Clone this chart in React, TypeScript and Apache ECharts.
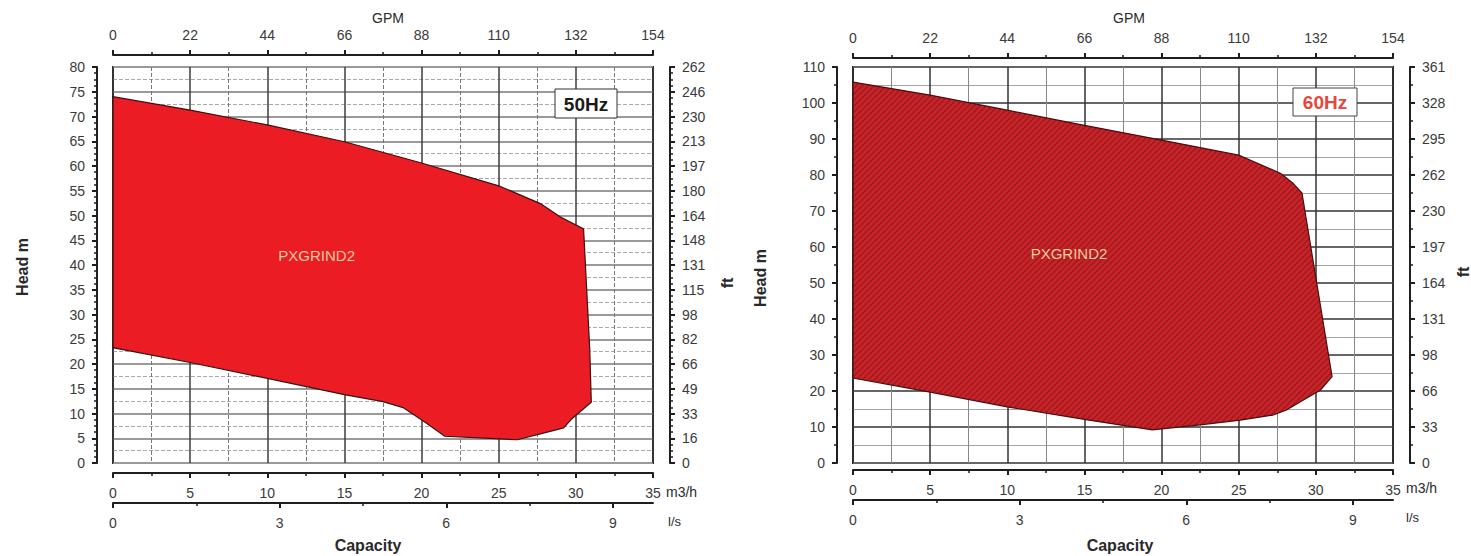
import { useEffect, useRef } from 'react';
import * as echarts from 'echarts';

// ---------- data ----------
const m3hRange = [0, 35];
const gpmRange = [0, 154];
const lsMajorTicks = [0, 3, 6, 9];
const lsMinorTicks = [1.5, 4.5, 7.5];

// 50 Hz operating envelope (capacity m3/h, head m) – clockwise polygon
const hz50Q = [0, 5, 10, 15, 20, 25, 27.7, 29, 30.5, 30.9, 31.0, 29.8, 29.2, 27.7, 26.2, 21.5, 20.3, 18.8, 17.5, 15, 10, 5, 0];
const hz50H = [74, 71.3, 68.3, 64.9, 60.6, 56, 52.4, 49.7, 47.3, 23, 12.3, 9.1, 7.1, 5.9, 4.7, 5.4, 8.1, 11.2, 12.4, 13.8, 17.1, 20.3, 23.3];
const hz50FtLabels = ['0', '16', '33', '49', '66', '82', '98', '115', '131', '148', '164', '180', '197', '213', '230', '246', '262'];

// 60 Hz operating envelope
const hz60Q = [0, 5, 10, 15, 20, 25, 27.7, 28.5, 29.1, 31.05, 30.3, 29, 28.1, 27.2, 25.1, 22.5, 19.4, 15, 10, 5, 0];
const hz60H = [105.8, 102.2, 98, 93.8, 89.7, 85.5, 80.5, 77.8, 75, 24, 20.3, 17, 14.7, 13.3, 11.9, 10.6, 9.2, 12.1, 15.6, 19.7, 23.6];
const hz60FtLabels = ['0', '33', '66', '98', '131', '164', '197', '230', '262', '295', '328', '361'];

const pumpName = 'PXGRIND2';

const FONT = "'Liberation Sans', Arial, sans-serif";
const INK = '#1e1e1e';
const LABEL = '#3a3a3a';

function makeHatch() {
  const cv = document.createElement('canvas');
  cv.width = 6;
  cv.height = 6;
  const ctx = cv.getContext('2d');
  if (ctx) {
    ctx.fillStyle = '#c9232a';
    ctx.fillRect(0, 0, 6, 6);
    ctx.strokeStyle = '#9c1a1d';
    ctx.lineWidth = 1.4;
    ctx.beginPath();
    ctx.moveTo(0, 6); ctx.lineTo(6, 0);
    ctx.moveTo(-1, 1); ctx.lineTo(1, -1);
    ctx.moveTo(5, 7); ctx.lineTo(7, 5);
    ctx.stroke();
  }
  return { image: cv, repeat: 'repeat', imageWidth: 6, imageHeight: 6 };
}

interface Panel {
  left: number; top: number; width: number; height: number;
  yMax: number; yInterval: number; yMinorTicks: number; ftMinorTicks: number;
  ftLabels: string[];
  q: number[]; h: number[];
  fill: any; stroke: string;
  labelQ: number; labelH: number;
  gpmOffset: number; m3hOffset: number; lsOffset: number; yOffset: number; ftOffset: number;
  vMajor: any; vMinor: any; hMajor: any; hMinor: any;
}

function buildPanel(p: Panel, gi: number) {
  const xb = gi * 4;
  const yb = gi * 3;
  const axisLine = { show: true, onZero: false, lineStyle: { color: INK, width: 2 } };
  const tick = { show: true, length: 5, lineStyle: { color: INK, width: 2 } };
  const minor = (n: number) => ({ show: true, splitNumber: n, length: 3, lineStyle: { color: INK, width: 1.5 } });
  const lab = (margin: number) => ({ color: LABEL, fontSize: 14, fontFamily: FONT, margin });
  const lsMax = m3hRange[1] / 3.6;

  const grid = {
    left: p.left, top: p.top, width: p.width, height: p.height,
    show: true, borderColor: INK, borderWidth: 2, backgroundColor: '#fff',
  };
  const xAxes: any[] = [
    {
      type: 'value', gridIndex: gi, position: 'bottom', offset: p.m3hOffset,
      min: m3hRange[0], max: m3hRange[1], interval: 5,
      axisLine, axisTick: tick, minorTick: minor(2), axisLabel: lab(13),
      splitLine: { show: true, lineStyle: p.vMajor },
      minorSplitLine: { show: true, lineStyle: p.vMinor },
    },
    {
      type: 'value', gridIndex: gi, position: 'top', offset: p.gpmOffset,
      min: gpmRange[0], max: gpmRange[1], interval: 22,
      axisLine, axisTick: tick, minorTick: minor(2), axisLabel: lab(13),
      splitLine: { show: false },
    },
    {
      type: 'value', gridIndex: gi, position: 'bottom', offset: p.lsOffset,
      min: 0, max: lsMax,
      axisLine,
      axisTick: { ...tick, customValues: lsMajorTicks },
      axisLabel: { ...lab(13), customValues: lsMajorTicks },
      splitLine: { show: false },
    },
    {
      type: 'value', gridIndex: gi, position: 'bottom', offset: p.lsOffset,
      min: 0, max: lsMax,
      axisLine: { show: false, onZero: false },
      axisTick: { show: true, length: 3, lineStyle: { color: INK, width: 1.5 }, customValues: lsMinorTicks },
      axisLabel: { show: false },
      splitLine: { show: false },
    },
  ];
  const yAxes: any[] = [
    {
      type: 'value', gridIndex: gi, position: 'left', offset: p.yOffset,
      min: 0, max: p.yMax, interval: p.yInterval,
      axisLine, axisTick: tick, minorTick: minor(p.yMinorTicks), axisLabel: lab(12),
      splitLine: { show: false },
    },
    {
      type: 'value', gridIndex: gi, position: 'right', offset: p.ftOffset,
      min: 0, max: p.yMax, interval: p.yInterval,
      axisLine, axisTick: tick, minorTick: minor(p.ftMinorTicks),
      axisLabel: { ...lab(12), formatter: (v: number) => p.ftLabels[Math.round(v / p.yInterval)] ?? '' },
      splitLine: { show: false },
    },
    {
      type: 'value', gridIndex: gi, position: 'left',
      min: 0, max: p.yMax, interval: p.yInterval,
      axisLine: { show: false, onZero: false }, axisTick: { show: false }, axisLabel: { show: false },
      minorTick: { show: false, splitNumber: 2 },
      splitLine: { show: true, lineStyle: p.hMajor },
      minorSplitLine: { show: true, lineStyle: p.hMinor },
    },
  ];
  const series = {
    type: 'custom',
    xAxisIndex: xb,
    yAxisIndex: yb,
    silent: true,
    z: 5,
    data: [[0, 0]],
    renderItem: (_params: any, api: any) => {
      const pts = p.q.map((q, i) => api.coord([q, p.h[i]]));
      const c = api.coord([p.labelQ, p.labelH]);
      return {
        type: 'group',
        children: [
          { type: 'polygon', shape: { points: pts }, style: { fill: p.fill, stroke: p.stroke, lineWidth: 1.2 } },
          {
            type: 'text', x: c[0], y: c[1],
            style: { text: pumpName, fill: '#f7c99c', font: `15px ${FONT}`, align: 'center', verticalAlign: 'middle' },
          },
        ],
      };
    },
  };
  return { grid, xAxes, yAxes, series };
}

function txt(text: string, x: number, y: number, size: number, opts: any = {}) {
  return {
    type: 'text', x, y, rotation: opts.rotation ?? 0, z: 20,
    style: {
      text, fill: opts.color ?? '#2a2a2a', font: `${opts.bold ? 'bold ' : ''}${size}px ${FONT}`,
      align: opts.align ?? 'center', verticalAlign: 'middle',
    },
  };
}

export default function App() {
  const ref = useRef<HTMLDivElement>(null);
  useEffect(() => {
    if (!ref.current) return;
    const chart = echarts.init(ref.current, undefined, { renderer: 'svg' });
    const hatch = makeHatch();

    const p50: Panel = {
      left: 113, top: 67, width: 540, height: 396,
      yMax: 80, yInterval: 5, yMinorTicks: 4, ftMinorTicks: 4, ftLabels: hz50FtLabels,
      q: hz50Q, h: hz50H, fill: '#ec1c24', stroke: '#3a1212',
      labelQ: 13.2, labelH: 42,
      gpmOffset: 12, m3hOffset: 10, lsOffset: 40, yOffset: 16, ftOffset: 17,
      vMajor: { color: '#3c3c3c', width: 1.5 },
      vMinor: { color: '#777', width: 1, type: 'dashed' },
      hMajor: { color: '#9a9a9a', width: 2 },
      hMinor: { color: '#aaa', width: 1, type: 'dashed' },
    };
    const p60: Panel = {
      left: 853, top: 67, width: 540, height: 396,
      yMax: 110, yInterval: 10, yMinorTicks: 2, ftMinorTicks: 2, ftLabels: hz60FtLabels,
      q: hz60Q, h: hz60H, fill: hatch, stroke: '#4a0e0e',
      labelQ: 14, labelH: 58.3,
      gpmOffset: 9, m3hOffset: 7, lsOffset: 37, yOffset: 16, ftOffset: 17,
      vMajor: { color: '#333', width: 1.5 },
      vMinor: { color: '#888', width: 1 },
      hMajor: { color: '#666', width: 2 },
      hMinor: { color: '#a5a5a5', width: 1 },
    };
    const a = buildPanel(p50, 0);
    const b = buildPanel(p60, 1);

    const graphic: any[] = [
      txt('GPM', 388, 18, 14),
      txt('GPM', 1129, 18, 14),
      txt('Head m', 22, 267, 16, { bold: true, rotation: Math.PI / 2 }),
      txt('Head m', 760, 278, 16, { bold: true, rotation: Math.PI / 2 }),
      txt('ft', 727, 283, 16, { bold: true, rotation: Math.PI / 2 }),
      txt('ft', 1463, 272, 16, { bold: true, rotation: Math.PI / 2 }),
      txt('Capacity', 368, 545, 16, { bold: true }),
      txt('Capacity', 1120, 545, 16, { bold: true }),
      txt('m3/h', 666, 492, 14, { align: 'left' }),
      txt('m3/h', 1406, 488, 14, { align: 'left' }),
      txt('l/s', 668, 521, 13, { align: 'left' }),
      txt('l/s', 1406, 517, 13, { align: 'left' }),
      {
        type: 'rect', z: 19, shape: { x: 555, y: 89, width: 62, height: 29 },
        style: { fill: '#fff', stroke: '#333', lineWidth: 1 },
      },
      txt('50Hz', 586, 104, 19, { bold: true, color: '#1a1a1a' }),
      {
        type: 'rect', z: 19, shape: { x: 1293, y: 88, width: 64, height: 28 },
        style: { fill: '#fff', stroke: '#444', lineWidth: 1 },
      },
      txt('60Hz', 1325, 102, 19, { bold: true, color: '#e5473c' }),
    ];

    chart.setOption({
      animation: false,
      backgroundColor: '#fff',
      grid: [a.grid, b.grid],
      xAxis: [...a.xAxes, ...b.xAxes],
      yAxis: [...a.yAxes, ...b.yAxes],
      series: [a.series, b.series],
      graphic,
    });
    return () => chart.dispose();
  }, []);
  return <div ref={ref} style={{ position: 'fixed', left: 0, top: 0, width: 1471, height: 556, background: '#fff' }} />;
}
